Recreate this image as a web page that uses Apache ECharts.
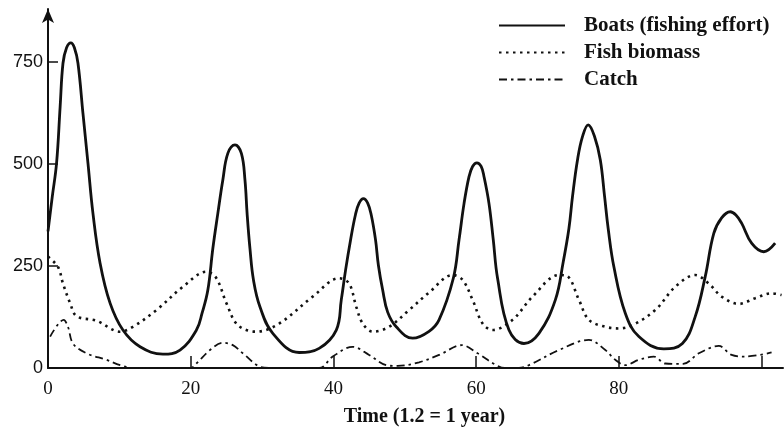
<!DOCTYPE html>
<html lang="en">
<head>
    <meta charset="UTF-8">
    <script src="https://cdn.jsdelivr.net/npm/echarts@6/dist/echarts.min.js"></script>
    <style>
        html, body { margin: 0; padding: 0; background: #fff; }
        #main { width: 784px; height: 428px; }
    </style>
</head>
<body>
    <div id="main"></div>
    <script>
        // values
        var seriesNames = ['Boats (fishing effort)', 'Fish biomass', 'Catch'];

        var boatsTime = [0, 0.6, 1.2, 1.7, 2.1, 2.6, 3.2, 3.7, 4.2, 4.9, 5.6, 6.3, 7.3, 8.7, 10.5, 12.9, 16.1, 18.5,
            20.8, 21.6, 22.4, 23.1, 23.8, 24.5, 25.2, 26.2, 27.1, 27.6, 27.9, 28.3, 28.8, 29.7, 31.5, 35.2, 38.0,
            40.4, 41.1, 41.7, 42.4, 43.1, 43.6, 44.2, 44.8, 45.3, 45.9, 46.3, 46.9, 47.6, 48.8, 51.1, 53.4,
            54.8, 56.8, 57.6, 58.3, 59.0, 59.5, 60.1, 60.7, 61.1, 61.8, 62.4, 63.0, 64.6, 66.7, 68.8,
            71.1, 72.2, 73.0, 73.5, 74.2, 74.9, 75.7, 76.6, 77.4, 78.0, 78.5, 79.3, 80.9, 82.8, 86.3, 88.9,
            90.7, 92.1, 93.3, 94.4, 95.6, 96.4, 97.2, 98.6, 100.3, 101.9];
        var boatsValue = [335, 420, 502, 640, 747, 785, 797, 785, 747, 624, 502, 379, 257, 159, 93, 52, 34, 44,
            93, 135, 191, 293, 379, 461, 526, 547, 526, 461, 379, 293, 215, 150, 85, 38, 48,
            93, 167, 240, 314, 377, 404, 415, 404, 375, 314, 252, 191, 137, 101, 73, 90,
            118, 220, 314, 403, 469, 494, 503, 494, 469, 403, 314, 220, 93, 60, 85,
            167, 260, 342, 420, 510, 567, 596, 567, 510, 420, 342, 248, 134, 77, 47, 60,
            126, 224, 330, 368, 383, 375, 355, 306, 285, 306];

        var fishTime = [0, 1.4, 2.1, 3.1, 4.0, 6.8, 10.1, 11.9, 15.2, 18.9, 22.2, 23.6, 25.0, 26.6, 29.2, 32.4, 37.1,
            40.8, 42.2, 43.2, 44.1, 45.5, 47.8, 50.6, 53.4, 56.7, 58.1, 59.5, 60.9, 62.3, 65.1, 67.9, 71.6, 72.8,
            74.4, 75.8, 78.1, 80.0, 81.9, 85.1, 87.9, 90.7, 92.6, 94.4, 96.8, 99.1, 101.4, 102.8];
        var fishValue = [273, 248, 207, 159, 127, 116, 89, 101, 142, 199, 236, 220, 159, 105, 89, 109, 175,
            220, 207, 150, 109, 89, 101, 142, 185, 228, 216, 167, 109, 93, 118, 175, 228, 225,
            167, 118, 101, 97, 105, 142, 199, 228, 207, 175, 157, 171, 183, 179];

        var catchTime = [0.3, 2.2, 2.8, 3.5, 5.4, 8.2, 10.1, 12, 20, 20.8, 22.7, 24.5, 25.9, 27.3, 29.7, 31, 38,
            39.9, 42.7, 45.0, 47.4, 49, 52, 54.8, 58.0, 60.2, 62.8, 64, 66, 67.4, 71.6, 75.8, 78.1, 79.5, 80.9,
            82.8, 84.9, 86.5, 89, 91.2, 94, 95.8, 97.7, 101.4];
        var catchValue = [77, 118, 101, 60, 36, 20, 7, 0, 0, 11, 44, 62, 56, 36, 3, 0, 0,
            28, 52, 32, 7, 5, 14, 32, 56, 36, 7, 0, 0, 7, 44, 69, 44, 20, 7,
            20, 28, 11, 10, 36, 54, 32, 28, 38];

        var yTicks = [0, 250, 500, 750];
        var xTicks = [0, 20, 40, 60, 80];

        function pairs(ts, vs) {
            return ts.map(function (t, i) { return [t, vs[i]]; });
        }

        var ink = '#111';
        var chart = echarts.init(document.getElementById('main'));

        chart.setOption({
            animation: false,
            backgroundColor: '#fff',
            grid: { left: 48, right: 1, top: 9, bottom: 60, containLabel: false, outerBoundsMode: 'none' },
            legend: {
                data: seriesNames,
                orient: 'vertical',
                left: 493,
                top: 10,
                itemWidth: 66,
                itemHeight: 14,
                itemGap: 6,
                itemStyle: { opacity: 0, borderWidth: 0 },
                textStyle: {
                    fontFamily: 'Liberation Serif',
                    fontSize: 21,
                    fontWeight: 'bold',
                    lineHeight: 20,
                    color: ink,
                    padding: [0, 0, 0, 14]
                }
            },
            xAxis: {
                type: 'value',
                min: 0,
                max: 103,
                interval: 20,
                name: 'Time (1.2 = 1 year)',
                nameLocation: 'middle',
                nameGap: 39,
                nameTextStyle: {
                    fontFamily: 'Liberation Serif',
                    fontSize: 20,
                    fontWeight: 'bold',
                    color: ink,
                    padding: [0, 0, 0, 18]
                },
                axisLine: { lineStyle: { color: ink, width: 2 } },
                axisTick: { inside: true, length: 12, lineStyle: { color: ink, width: 1.5 } },
                axisLabel: {
                    showMaxLabel: false,
                    margin: 12,
                    fontFamily: 'Liberation Serif',
                    fontSize: 19,
                    color: ink,
                    formatter: function (v) { return xTicks.indexOf(v) >= 0 ? String(v) : ''; }
                },
                splitLine: { show: false }
            },
            yAxis: {
                type: 'value',
                min: 0,
                max: 880,
                interval: 250,
                axisLine: {
                    show: true,
                    symbol: ['none', 'arrow'],
                    symbolSize: [9, 14],
                    lineStyle: { color: ink, width: 2 }
                },
                axisTick: { show: true, inside: true, length: 10, lineStyle: { color: ink, width: 1.5 } },
                axisLabel: {
                    showMaxLabel: false,
                    margin: 5,
                    fontFamily: 'Liberation Sans',
                    fontSize: 18,
                    color: ink,
                    formatter: function (v) { return yTicks.indexOf(v) >= 0 ? String(v) : ''; }
                },
                splitLine: { show: false }
            },
            series: [
                {
                    name: seriesNames[0],
                    type: 'line',
                    data: pairs(boatsTime, boatsValue),
                    smooth: 0.4,
                    symbol: 'none',
                    lineStyle: { color: ink, width: 2.8 },
                    itemStyle: { color: ink }
                },
                {
                    name: seriesNames[1],
                    type: 'line',
                    data: pairs(fishTime, fishValue),
                    smooth: 0.35,
                    symbol: 'none',
                    lineStyle: { color: ink, width: 2.6, type: [2.5, 4.5], cap: 'butt' },
                    itemStyle: { color: ink }
                },
                {
                    name: seriesNames[2],
                    type: 'line',
                    data: pairs(catchTime, catchValue),
                    smooth: 0.35,
                    symbol: 'none',
                    lineStyle: { color: ink, width: 1.8, type: [8, 4, 2.5, 4] },
                    itemStyle: { color: ink }
                }
            ]
        });
    </script>
</body>
</html>
